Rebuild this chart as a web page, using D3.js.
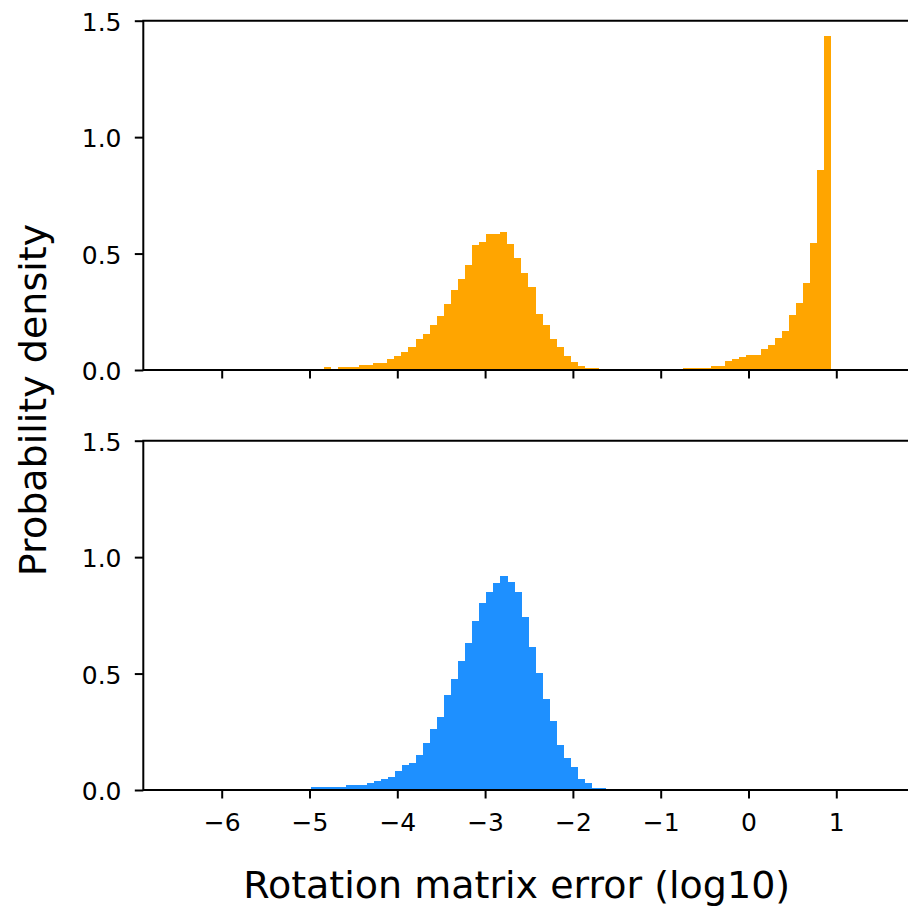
<!DOCTYPE html>
<html>
<head>
<meta charset="utf-8">
<script src="https://cdn.jsdelivr.net/npm/d3@7"></script>
<style>
  body { margin: 0; background: #fff; }
  text { font-family: "DejaVu Sans", sans-serif; fill: #000; }
</style>
</head>
<body>
<svg width="908" height="909"></svg>
<script>
// histogram bins (density per bin)
const topBinStart = -4.835;
const topBinWidth = 0.0802;
const topDensity = [
  0.011, 0, 0.013, 0.013, 0.013, 0.020, 0.020, 0.029, 0.029, 0.046,
  0.062, 0.079, 0.097, 0.133, 0.156, 0.192, 0.233, 0.285, 0.345, 0.389,
  0.449, 0.535, 0.551, 0.585, 0.585, 0.594, 0.542, 0.482, 0.415, 0.355,
  0.242, 0.192, 0.133, 0.097, 0.062, 0.036, 0.019, 0.010, 0.010, 0,
  0, 0, 0, 0, 0, 0, 0, 0, 0, 0,
  0, 0.010, 0.010, 0.010, 0.010, 0.019, 0.019, 0.037, 0.046, 0.054,
  0.063, 0.063, 0.089, 0.106, 0.139, 0.166, 0.235, 0.286, 0.372, 0.544,
  0.859, 1.436
];

const bottomBinStart = -4.983;
const bottomBinWidth = 0.0799;
const bottomDensity = [
  0.011, 0.011, 0.011, 0.011, 0.011, 0.020, 0.020, 0.020, 0.030, 0.040,
  0.049, 0.057, 0.082, 0.107, 0.117, 0.150, 0.200, 0.261, 0.312, 0.407,
  0.475, 0.554, 0.630, 0.724, 0.802, 0.852, 0.887, 0.920, 0.895, 0.852,
  0.741, 0.613, 0.501, 0.389, 0.295, 0.193, 0.139, 0.097, 0.046, 0.029,
  0.009, 0.009
];

const xTicks = [-6, -5, -4, -3, -2, -1, 0, 1];
const yTicks = [0, 0.5, 1.0, 1.5];
const xLabel = 'Rotation matrix error (log10)';
const yLabel = 'Probability density';

const left = 143.3, right = 919.7;
const tickLen = 8.5;

const svg = d3.select('svg');

const xScale = d3.scaleLinear()
    .domain([-6.893, 1.95])
    .range([left, right]);

function drawPanel(top, bottom, start, width, values, color, showLabels) {
    const yScale = d3.scaleLinear()
        .domain([0, 1.5])
        .range([bottom, top]);

    const bins = values.map((v, i) => ({
        x0: start + i * width,
        x1: start + (i + 1) * width,
        v: v
    })).filter(b => b.v > 0);

    svg.append('g')
        .attr('shape-rendering', 'crispEdges')
        .selectAll('rect')
        .data(bins)
        .enter()
        .append('rect')
        .attr('x', b => xScale(b.x0))
        .attr('width', b => xScale(b.x1) - xScale(b.x0) + 0.3)
        .attr('y', b => yScale(b.v))
        .attr('height', b => yScale(0) - yScale(b.v))
        .attr('fill', color);

    // y axis
    const yAxis = svg.append('g')
        .attr('transform', `translate(${left}, 0)`)
        .call(d3.axisLeft(yScale)
            .tickValues(yTicks)
            .tickFormat(d3.format('.1f'))
            .tickSize(tickLen)
            .tickSizeOuter(0)
            .tickPadding(13.3));
    yAxis.select('.domain').remove();
    yAxis.selectAll('line').attr('stroke', '#000').attr('stroke-width', 2);
    yAxis.selectAll('text')
        .attr('font-size', 25)
        .attr('font-family', 'DejaVu Sans')
        .attr('dy', '0.38em');

    // x axis
    const xAxis = svg.append('g')
        .attr('transform', `translate(0, ${bottom})`)
        .call(d3.axisBottom(xScale)
            .tickValues(xTicks)
            .tickSize(tickLen)
            .tickSizeOuter(0)
            .tickPadding(14.7));
    xAxis.select('.domain').remove();
    xAxis.selectAll('line').attr('stroke', '#000').attr('stroke-width', 2);
    xAxis.selectAll('text')
        .attr('font-size', 25)
        .attr('font-family', 'DejaVu Sans');
    if (!showLabels) xAxis.selectAll('text').remove();

    // spines: left, bottom, top
    const spines = svg.append('g')
        .attr('stroke', '#000')
        .attr('stroke-width', 2)
        .attr('fill', 'none');
    spines.append('path')
        .attr('d', `M${right},${top}H${left}V${bottom}H${right}`)
        .attr('stroke-linecap', 'square');
}

drawPanel(20.7, 370, topBinStart, topBinWidth, topDensity, '#FFA500', false);
drawPanel(440.7, 790, bottomBinStart, bottomBinWidth, bottomDensity, '#1E90FF', true);

svg.append('text')
    .attr('x', 516.7)
    .attr('y', 898.3)
    .attr('text-anchor', 'middle')
    .attr('font-size', 38)
    .text(xLabel);

svg.append('text')
    .attr('transform', 'translate(45.7, 400) rotate(-90)')
    .attr('text-anchor', 'middle')
    .attr('font-size', 38)
    .text(yLabel);
</script>
</body>
</html>
